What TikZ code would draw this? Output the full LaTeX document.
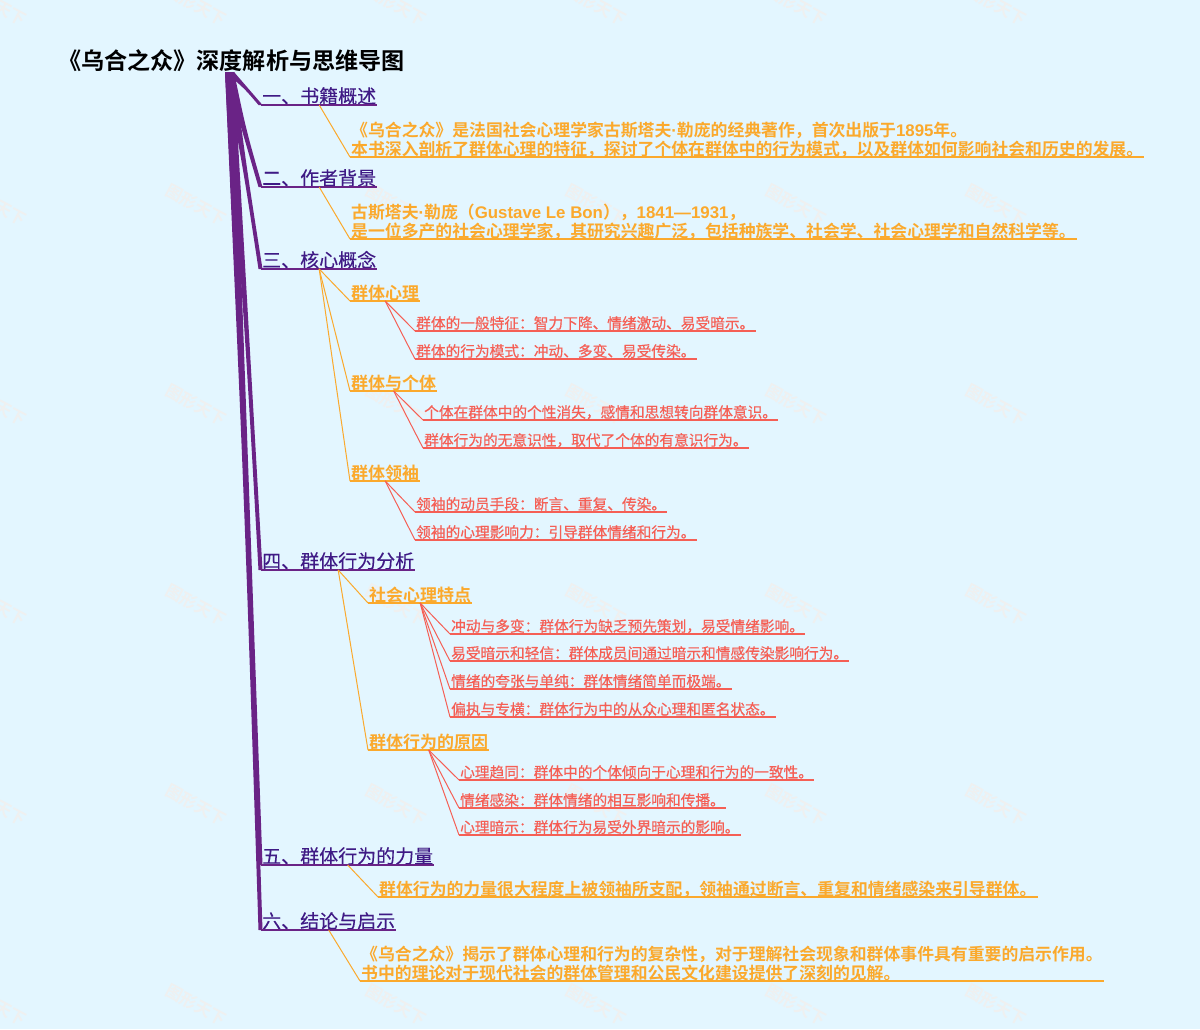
\documentclass[tikz,border=0pt]{standalone}
\usepackage{fontspec}
\usetikzlibrary{calc}
\newfontfamily\cjkreg[FakeBold=0.15]{Noto Sans CJK SC}
\newfontfamily\cjkmed[FakeBold=0.5]{Noto Sans CJK SC}
\newfontfamily\cjkbd{Noto Sans CJK SC Bold}
\newfontfamily\latbd{Liberation Sans Bold}
\definecolor{bgc}{HTML}{E3F6FF}
\definecolor{trunkc}{HTML}{6A2386}
\definecolor{lonetext}{HTML}{3F1A85}
\definecolor{orangec}{HTML}{FBA92C}
\definecolor{redc}{HTML}{F55F55}
\definecolor{wmc}{HTML}{EFF0F0}
\tikzset{
  x=1pt,y=-1pt,
  lab/.style={anchor=south west,inner xsep=1pt,inner ysep=0pt,align=left,text depth=.16em},
  titlen/.style={anchor=south west,inner sep=0pt,font={\cjkbd\fontsize{23.1}{26}\selectfont},text=black},
  lone/.style={lab,font={\cjkreg\fontsize{19}{21}\selectfont},text=lonetext},
  ltwo/.style={lab,font={\cjkbd\fontsize{17}{19}\selectfont},text=orangec},
  body/.style={lab,font={\cjkbd\fontsize{16.85}{19}\selectfont},text=orangec},
  lthree/.style={lab,text depth=.22em,font={\cjkmed\fontsize{14.7}{18}\selectfont},text=redc},
  ulone/.style={draw=trunkc,line width=2pt},
  ultwo/.style={draw=orangec,line width=2pt},
  ulthree/.style={draw=redc,line width=1.8pt},
  conorange/.style={draw=orangec,line width=1pt},
  conred/.style={draw=redc,line width=1pt},
  wm/.style={font={\cjkbd\fontsize{16.5}{19}\selectfont},text=wmc,rotate=-28,inner sep=0pt},
}
\newcommand{\taper}[2]{%
  \fill[trunkc] ($(root)+(-5,0)$) .. controls ($(root)!.5!(#1.south west)+(-#2,0)$) .. ($(#1.south west)+(-2.5,0)$)
    -- ($(#1.south west)+(1.5,0)$) .. controls ($(root)!.5!(#1.south west)+(-#2+3.5,0)$) .. ($(root)+(4,0)$) -- cycle;}
\newcommand{\ul}[2]{\draw[#2] (#1.south west) -- (#1.south east);}
\begin{document}
\begin{tikzpicture}
\useasboundingbox (0,0) rectangle (1200,1029);
\fill[bgc] (0,0) rectangle (1200,1029);
\foreach \i in {-4,196,396,596,796,996}
  \foreach \j in {5,205,405,605,805,1005}
    \node[wm] (wm\i\j) at (\i,\j) {图形天下};

\node[titlen] (title) at (58,72) {《乌合之众》深度解析与思维导图};
\coordinate (root) at (230,72);

\node[lone] (a) at (261,105) {一、书籍概述};
\node[lone] (b) at (261,187) {二、作者背景};
\node[lone] (c) at (261,269) {三、核心概念};
\node[lone] (d) at (261,570) {四、群体行为分析};
\node[lone] (e) at (261,865) {五、群体行为的力量};
\node[lone] (f) at (261,930) {六、结论与启示};

\node[body] (a1) at (350,157) {《乌合之众》是法国社会心理学家古斯塔夫{\latbd ·}勒庞的经典著作，首次出版于{\latbd 1895}年。\\本书深入剖析了群体心理的特征，探讨了个体在群体中的行为模式，以及群体如何影响社会和历史的发展。};
\node[body] (b1) at (350,239) {古斯塔夫{\latbd ·}勒庞（{\latbd Gustave Le Bon}），{\latbd 1841—1931}，\\是一位多产的社会心理学家，其研究兴趣广泛，包括种族学、社会学、社会心理学和自然科学等。};

\node[ltwo] (c1) at (350,301) {群体心理};
\node[ltwo] (c2) at (350,391) {群体与个体};
\node[ltwo] (c3) at (350,481) {群体领袖};
\node[lthree] (c11) at (415,331) {群体的一般特征：智力下降、情绪激动、易受暗示。};
\node[lthree] (c12) at (415,359) {群体的行为模式：冲动、多变、易受传染。};
\node[lthree] (c21) at (423,420) {个体在群体中的个性消失，感情和思想转向群体意识。};
\node[lthree] (c22) at (423,448) {群体行为的无意识性，取代了个体的有意识行为。};
\node[lthree] (c31) at (415,512) {领袖的动员手段：断言、重复、传染。};
\node[lthree] (c32) at (415,540) {领袖的心理影响力：引导群体情绪和行为。};

\node[ltwo] (d1) at (368,603) {社会心理特点};
\node[ltwo] (d2) at (368,750) {群体行为的原因};
\node[lthree] (d11) at (450,634) {冲动与多变：群体行为缺乏预先策划，易受情绪影响。};
\node[lthree] (d12) at (450,661) {易受暗示和轻信：群体成员间通过暗示和情感传染影响行为。};
\node[lthree] (d13) at (450,689) {情绪的夸张与单纯：群体情绪简单而极端。};
\node[lthree] (d14) at (450,717) {偏执与专横：群体行为中的从众心理和匿名状态。};
\node[lthree] (d21) at (459,780) {心理趋同：群体中的个体倾向于心理和行为的一致性。};
\node[lthree] (d22) at (459,808) {情绪感染：群体情绪的相互影响和传播。};
\node[lthree] (d23) at (459,835) {心理暗示：群体行为易受外界暗示的影响。};

\node[body] (e1) at (378,897) {群体行为的力量很大程度上被领袖所支配，领袖通过断言、重复和情绪感染来引导群体。};
\node[body] (f1) at (360,981) {《乌合之众》揭示了群体心理和行为的复杂性，对于理解社会现象和群体事件具有重要的启示作用。\\书中的理论对于现代社会的群体管理和公民文化建设提供了深刻的见解。};

% trunk branches
\taper{a}{1}\taper{b}{3}\taper{c}{2}\taper{d}{1}\taper{e}{1}\taper{f}{1}
\foreach \n in {a,b,c,d,e,f} {\ul{\n}{ulone}}
\foreach \n in {a1,b1,c1,c2,c3,d1,d2,e1,f1} {\ul{\n}{ultwo}}
\foreach \n in {c11,c12,c21,c22,c31,c32,d11,d12,d13,d14,d21,d22,d23} {\ul{\n}{ulthree}}

\draw[conorange] (a.south) -- (a1.south west);
\draw[conorange] (b.south) -- (b1.south west);
\draw[conorange] (c.south) -- (c1.south west);
\draw[conorange] (c.south) -- (c2.south west);
\draw[conorange] (c.south) -- (c3.south west);
\draw[conorange] (d.south) -- (d1.south west);
\draw[conorange] (d.south) -- (d2.south west);
\draw[conorange] (e.south) -- (e1.south west);
\draw[conorange] (f.south) -- (f1.south west);
\draw[conred] (c1.south) -- (c11.south west);
\draw[conred] (c1.south) -- (c12.south west);
\draw[conred] (c2.south) -- (c21.south west);
\draw[conred] (c2.south) -- (c22.south west);
\draw[conred] (c3.south) -- (c31.south west);
\draw[conred] (c3.south) -- (c32.south west);
\draw[conred] (d1.south) -- (d11.south west);
\draw[conred] (d1.south) -- (d12.south west);
\draw[conred] (d1.south) -- (d13.south west);
\draw[conred] (d1.south) -- (d14.south west);
\draw[conred] (d2.south) -- (d21.south west);
\draw[conred] (d2.south) -- (d22.south west);
\draw[conred] (d2.south) -- (d23.south west);
\end{tikzpicture}
\end{document}
